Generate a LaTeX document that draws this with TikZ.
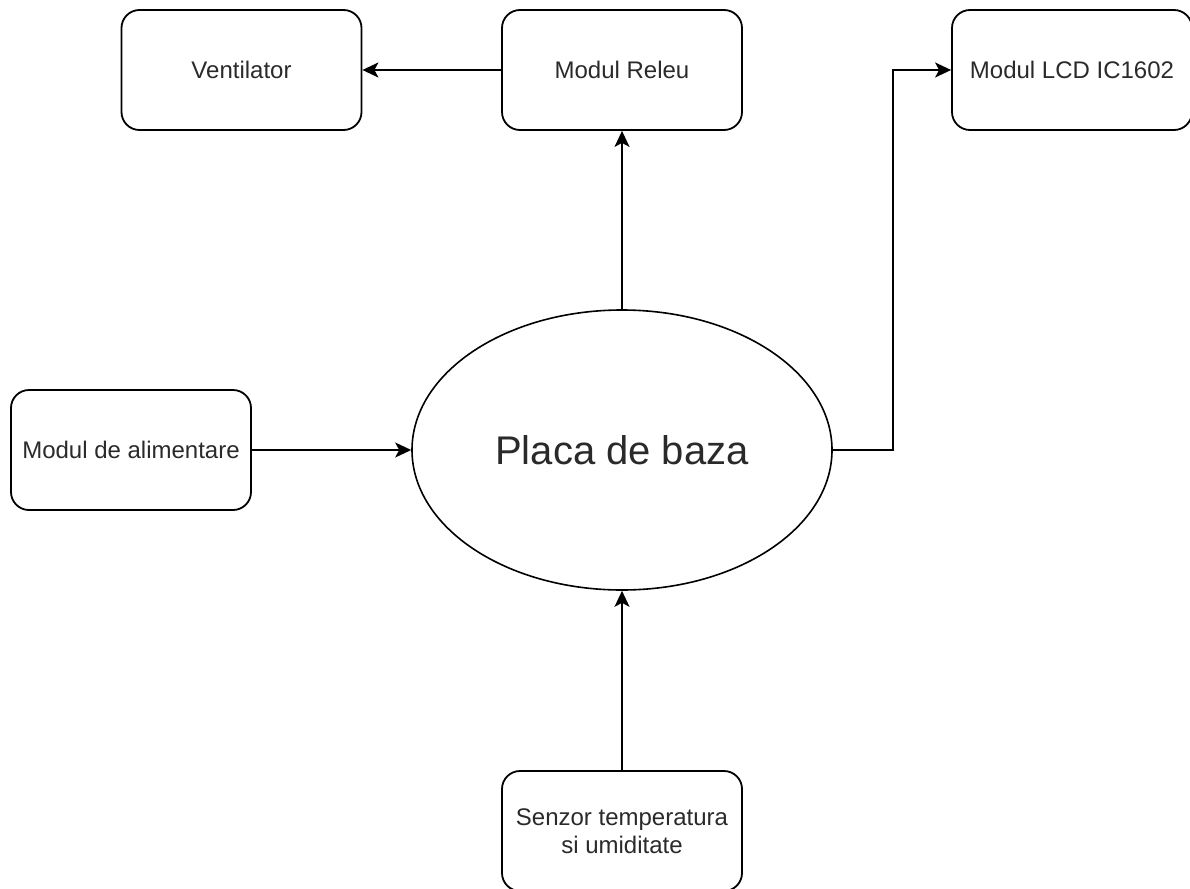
\documentclass[tikz,border=0pt]{standalone}
\usepackage{fontspec}
\setmainfont{Liberation Sans}
\usetikzlibrary{shapes.geometric,arrows.meta}
\definecolor{txt}{HTML}{2A2A2A}
\begin{document}
\begin{tikzpicture}[x=1pt,y=-1pt,
  box/.style={draw=black, line width=1.8pt, rectangle, rounded corners=18pt,
    minimum width=240pt, minimum height=120pt, inner sep=0pt, align=center,
    text=txt, font=\fontsize{24}{28}\selectfont},
  oval/.style={draw=black, line width=1.6pt, ellipse, minimum width=420pt,
    minimum height=280pt, inner sep=0pt, text=txt, font=\fontsize{40}{46}\selectfont},
  conn/.style={line width=1.8pt, draw=black, -{Stealth[length=16pt,width=15pt,inset=4pt]}},
  line/.style={line width=1.8pt, draw=black}]
\useasboundingbox (0,0) rectangle (1190,888);
\node[box] (vent) at (241.5,70) {Ventilator};
\node[box] (relay) at (622,70) {Modul Releu};
\node[box] (lcd) at (1072,70) {Modul LCD IC1602};
\node[box] (power) at (131,450) {Modul de alimentare};
\node[oval] (main) at (622,450) {Placa de baza};
\node[box] (sensor) at (622,831) {Senzor temperatura\\si umiditate};
\coordinate (bend) at (893,450);
\draw[conn] (relay.west) -- (vent.east);
\draw[conn] (main.north) -- (relay.south);
\draw[conn] (power.east) -- (main.west);
\draw[conn] (sensor.north) -- (main.south);
\draw[conn] (main.east) -- (bend) |- (lcd.west);
\end{tikzpicture}
\end{document}
